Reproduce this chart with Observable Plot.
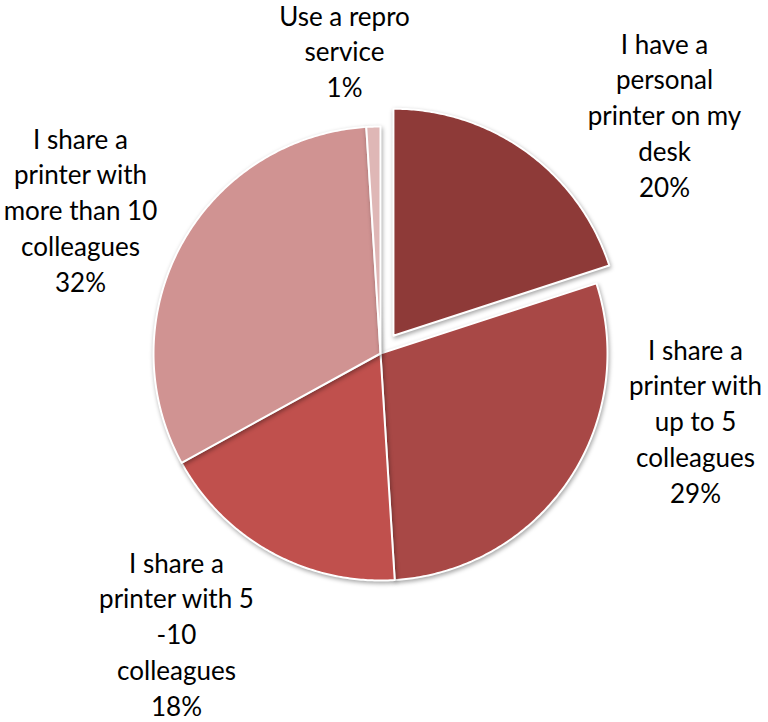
<!DOCTYPE html>
<html><head><meta charset="utf-8">
<script src="https://cdn.jsdelivr.net/npm/d3@7"></script>
<script src="https://cdn.jsdelivr.net/npm/@observablehq/plot@0.6"></script>
<style>
body{margin:0;background:#fff}
g[aria-label="line"] path{filter:drop-shadow(1px 2px 2px rgba(0,0,0,0.35));}
</style>
</head><body><div id="chart"></div>
<script>
// ---- data ----
const categories = [
  "I have a personal printer on my desk",
  "I share a printer with up to 5 colleagues",
  "I share a printer with 5 -10 colleagues",
  "I share a printer with more than 10 colleagues",
  "Use a repro service"
];
const values = [20, 29, 18, 32, 1];
const labelLines = [
  ["I have a", "personal", "printer on my", "desk"],
  ["I share a", "printer with", "up to 5", "colleagues"],
  ["I share a", "printer with 5", "-10", "colleagues"],
  ["I share a", "printer with", "more than 10", "colleagues"],
  ["Use a repro", "service"]
];
const explodedSlice = [true, false, false, false, false];

// ---- style / layout ----
const colors = ["#8E3A38", "#A84846", "#C0504D", "#D09392", "#DFB7B6"];
const W = 768, H = 722, cx = 380, cy = 353, R = 227, explodePx = 22;
const fontSize = 26, linePx = 36, lineHeight = linePx / fontSize;
// label centre x and first-line baseline (pixels)
const labelPos = [[664, 53], [695, 359], [176, 572], [80, 148], [344, 25]];

const total = d3.sum(values);
const arcs = d3.pie().sort(null).value(d => d)(values);
const pts = [];
arcs.forEach((a, i) => {
  const mid = (a.startAngle + a.endAngle) / 2;
  const d = explodedSlice[i] ? explodePx / R : 0;
  const ox = d * Math.sin(mid), oy = d * Math.cos(mid);
  pts.push({cat: categories[i], x: ox, y: oy});
  const n = Math.max(2, Math.ceil((a.endAngle - a.startAngle) / 0.01));
  for (let k = 0; k <= n; k++) {
    const t = a.startAngle + (a.endAngle - a.startAngle) * k / n;
    pts.push({cat: categories[i], x: ox + Math.sin(t), y: oy + Math.cos(t)});
  }
});

const labels = categories.map((c, i) => {
  const topPx = labelPos[i][1] - 0.71 * lineHeight * fontSize;
  return {
    cat: c,
    text: labelLines[i].join("\n") + "\n" + Math.round(values[i] / total * 100) + "%",
    x: (labelPos[i][0] - cx) / R,
    y: (cy - topPx) / R
  };
});

const chart = Plot.plot({
  width: W, height: H,
  margin: 0,
  x: {domain: [-cx / R, (W - cx) / R], range: [0, W], axis: null},
  y: {domain: [-(H - cy) / R, cy / R], range: [H, 0], axis: null},
  color: {domain: categories, range: colors},
  style: {fontFamily: "Lato, sans-serif", background: "#fff"},
  marks: [
    Plot.line(pts, {x: "x", y: "y", z: "cat", fill: "cat", stroke: "white", strokeWidth: 2, curve: "linear-closed", strokeLinejoin: "round"}),
    Plot.text(labels, {x: "x", y: "y", text: "text", lineAnchor: "top", textAnchor: "middle", fontSize: fontSize, lineHeight: lineHeight, fill: "#000"})
  ]
});
document.getElementById("chart").appendChild(chart);
</script>
</body></html>
